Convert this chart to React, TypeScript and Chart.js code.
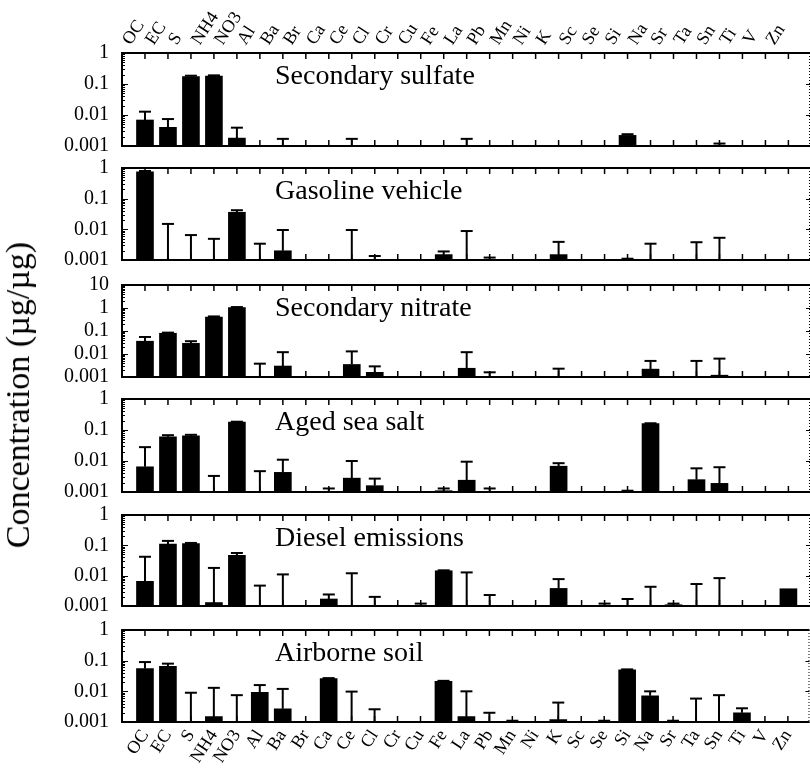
import React, { useEffect, useRef } from 'react';
import { Chart, registerables } from 'chart.js';

Chart.register(...registerables);

// ---------- data ----------
const categories = ['OC','EC','S','NH4','NO3','Al','Ba','Br','Ca','Ce','Cl','Cr','Cu','Fe','La','Pb','Mn','Ni','K','Sc','Se','Si','Na','Sr','Ta','Sn','Ti','V','Zn'];

const panelTitles = ['Secondary sulfate','Gasoline vehicle','Secondary nitrate','Aged sea salt','Diesel emissions','Airborne soil'];

const yTicksStd = [0.001, 0.01, 0.1, 1];
const yTicksNitrate = [0.001, 0.01, 0.1, 1, 10];

//                       OC      EC      S      NH4     NO3     Al      Ba      Br    Ca      Ce      Cl       Cr    Cu      Fe      La      Pb      Mn       Ni    K       Sc    Se       Si      Na     Sr       Ta      Sn       Ti      V     Zn
const sulfateValues   = [0.0069, 0.0040, 0.175, 0.18,   0.0018, null,   null,   null, null,   null,   null,    null, null,   null,   null,   null,   null,    null, null,   null, null,    0.0022, null,  null,    null,   null,    null,   null, null];
const sulfateErrors   = [0.0128, 0.0074, 0.185, 0.19,   0.0039, null,   0.0017, null, null,   0.0017, null,    null, null,   null,   0.0017, null,   null,    null, null,   null, null,    0.0024, null,  null,    null,   0.0012,  null,   null, null];

const gasolineValues  = [0.75,   null,   null,  null,   0.036,  null,   0.0020, null, null,   null,   null,    null, null,   0.0015, null,   null,   null,    null, 0.0015, null, null,    null,   null,  null,    null,   null,    null,   null, null];
const gasolineErrors  = [0.80,   0.015,  0.0065,0.0049, 0.042,  0.0034, 0.0095, null, null,   0.0095, 0.00135, null, null,   0.0019, 0.0088, 0.0012, null,    null, 0.0039, null, null,    0.0011, 0.0034,null,    0.0038, 0.0053,  null,   null, null];

const nitrateValues   = [0.036,  0.080,  0.029, 0.40,   1.05,   null,   0.0030, null, null,   0.0035, 0.0016,  null, null,   null,   0.0024, null,   null,    null, null,   null, null,    null,   0.0022,null,    null,   0.0012,  null,   null, null];
const nitrateErrors   = [0.055,  0.085,  0.036, 0.43,   1.10,   0.0038, 0.012,  null, null,   0.013,  0.0029,  null, null,   null,   0.012,  0.0016, null,    null, 0.0023, null, null,    null,   0.0050,null,    0.0050, 0.0063,  null,   null, null];

const seaSaltValues   = [0.0065, 0.060,  0.065, null,   0.18,   null,   0.0043, null, null,   0.0028, 0.0016,  null, null,   0.0011, 0.0024, null,   null,    null, 0.0068, null, null,    null,   0.16,  null,    0.0025, 0.0019,  null,   null, null];
const seaSaltErrors   = [0.028,  0.068,  0.070, 0.0033, 0.185,  0.0047, 0.011,  null, 0.0013, 0.010,  0.0027,  null, null,   0.0013, 0.0095, 0.0013, null,    null, 0.0085, null, null,    0.0011, 0.165, null,    0.0058, 0.0063,  null,   null, null];

const dieselValues    = [0.0065, 0.11,   0.115, 0.0013, 0.047,  null,   null,   null, 0.0017, null,   null,    null, null,   0.0145, null,   null,   null,    null, 0.0038, null, null,    null,   null,  0.0011,  null,   null,    null,   null, 0.0037];
const dieselErrors    = [0.042,  0.14,   0.12,  0.018,  0.056,  0.0047, 0.011,  null, 0.0024, 0.012,  0.0020,  null, 0.0012, 0.015,  0.0128, 0.0023, null,    null, 0.0077, null, 0.0012,  0.0017, 0.0043,0.0012,  0.0053, 0.0083,  null,   null, null];

const soilValues      = [0.055,  0.065,  null,  0.0015, null,   0.0092, 0.0027, null, 0.026,  null,   null,    null, null,   0.021,  0.0015, null,   0.00105, null, 0.0012, null, 0.00105, 0.050,  0.0072,0.00105, null,   0.00105, 0.0020, null, null];
const soilErrors      = [0.090,  0.080,  0.009, 0.013,  0.0075, 0.016,  0.012,  null, 0.027,  0.0098, 0.0026,  null, null,   0.022,  0.010,  0.0020, 0.0011,  null, 0.0043, null, 0.0011,  0.052,  0.010, 0.0011,  0.0058, 0.0075,  0.0028, null, null];

const panelValues = [sulfateValues, gasolineValues, nitrateValues, seaSaltValues, dieselValues, soilValues];
const panelErrors = [sulfateErrors, gasolineErrors, nitrateErrors, seaSaltErrors, dieselErrors, soilErrors];
const panelYMax = [1, 1, 10, 1, 1, 1];
const panelYTicks = [yTicksStd, yTicksStd, yTicksNitrate, yTicksStd, yTicksStd, yTicksStd];

// ---------- layout ----------
const PAGE_W = 810;
const PAGE_H = 771;
const PLOT_LEFT = 122;
const PANEL_TOPS = [53, 168, 285, 399, 515, 630];
const PANEL_BOTTOMS = [146, 260, 377, 492, 606, 722];
const FONT = '"Liberation Serif", "Times New Roman", serif';

type PanelProps = { idx: number };

function Panel({ idx }: PanelProps) {
  const ref = useRef<HTMLCanvasElement | null>(null);
  useEffect(() => {
    if (!ref.current) return;
    const first = idx === 0;
    const last = idx === 5;
    const top = PANEL_TOPS[idx];
    const bottom = PANEL_BOTTOMS[idx];
    const values = panelValues[idx];
    const errors = panelErrors[idx];
    const yMax = panelYMax[idx];
    const yTicks = panelYTicks[idx];
    const title = panelTitles[idx];

    const line = (ctx: CanvasRenderingContext2D, x1: number, y1: number, x2: number, y2: number) => {
      ctx.beginPath();
      ctx.moveTo(x1, y1);
      ctx.lineTo(x2, y2);
      ctx.stroke();
    };

    const framePlugin = {
      id: 'frame',
      afterDatasetsDraw(chart: any) {
        const { ctx, chartArea, scales } = chart;
        const xs = scales.x, ys = scales.y;
        ctx.save();
        ctx.strokeStyle = '#000';
        ctx.lineWidth = 2;
        errors.forEach((e, i) => {
          if (e == null) return;
          const px = xs.getPixelForValue(i);
          const v = values[i];
          const yb = v != null ? ys.getPixelForValue(v) : chartArea.bottom;
          const yt = ys.getPixelForValue(e);
          line(ctx, px, yb, px, yt);
          line(ctx, px - 6, yt, px + 6, yt);
        });
        ctx.restore();
      },
      afterDraw(chart: any) {
        const { ctx, chartArea, scales } = chart;
        const { left, right, top: t, bottom: b } = chartArea;
        const xs = scales.x, ys = scales.y;
        ctx.save();
        ctx.strokeStyle = '#000';
        ctx.lineWidth = 2;
        ctx.beginPath();
        ctx.moveTo(right, t);
        ctx.lineTo(left, t);
        ctx.lineTo(left, b);
        ctx.lineTo(right, b);
        ctx.stroke();
        // right dotted border
        ctx.lineWidth = 1;
        ctx.setLineDash([1, 2]);
        line(ctx, right - 0.5, t, right - 0.5, b);
        ctx.setLineDash([]);
        // x ticks (inward, top and bottom)
        ctx.lineWidth = 1.5;
        categories.forEach((_, i) => {
          const px = xs.getPixelForValue(i);
          line(ctx, px, t, px, t + 6);
          line(ctx, px, b, px, b - 6);
        });
        // y ticks (log, inward)
        ctx.lineWidth = 1;
        for (let d = 0.001; d < yMax * 0.999; d *= 10) {
          for (let m = 1; m <= 9; m++) {
            const v = d * m;
            const py = Math.round(ys.getPixelForValue(v)) + 0.5;
            const len = m === 1 ? 6 : 3;
            line(ctx, left, py, left + len, py);
            if (m === 1) line(ctx, right, py, right - 4, py);
          }
        }
        // title
        ctx.fillStyle = '#000';
        ctx.font = `28px ${FONT}`;
        ctx.textAlign = 'left';
        ctx.textBaseline = 'alphabetic';
        ctx.fillText(title, left + 153, t + 31);
        ctx.restore();
      },
    };

    const chart = new Chart(ref.current, {
      type: 'bar',
      data: {
        datasets: [
          {
            data: values.map((v, i) => ({ x: i, y: v })) as any,
            backgroundColor: '#000',
            borderWidth: 0,
            barThickness: 17,
          },
        ],
      },
      options: {
        animation: false,
        responsive: false,
        maintainAspectRatio: false,
        events: [],
        layout: {
          padding: {
            left: 0,
            right: 0,
            top: first ? 0 : top,
            bottom: last ? 0 : PAGE_H - bottom,
          },
        },
        plugins: {
          legend: { display: false },
          tooltip: { enabled: false },
          title: { display: false },
        },
        scales: {
          x: {
            type: 'linear',
            min: -1,
            max: 28.94,
            offset: false,
            position: first ? 'top' : 'bottom',
            display: first || last,
            grid: { display: false, drawTicks: false },
            border: { display: false },
            ticks: {
              autoSkip: false,
              minRotation: 57,
              maxRotation: 57,
              padding: 4,
              color: '#000',
              font: { family: FONT, size: 18 },
              callback: (v: any) => categories[Number(v)] ?? '',
            },
            afterBuildTicks: (s: any) => {
              s.ticks = categories.map((_, i) => ({ value: i }));
            },
            afterFit: (s: any) => {
              if (first) s.height = top;
              else if (last) s.height = PAGE_H - bottom;
              else s.height = 0;
            },
          } as any,
          y: {
            type: 'logarithmic',
            min: 0.001,
            max: yMax,
            grid: { display: false, drawTicks: false },
            border: { display: false },
            ticks: {
              autoSkip: false,
              padding: 13,
              color: '#000',
              font: { family: FONT, size: 20 },
              callback: (v: any) => String(Number(v)),
            },
            afterBuildTicks: (s: any) => {
              s.ticks = yTicks.map((v) => ({ value: v }));
            },
            afterFit: (s: any) => {
              s.width = PLOT_LEFT;
            },
          } as any,
        },
      },
      plugins: [framePlugin],
    });
    return () => chart.destroy();
  }, [idx]);

  return (
    <canvas
      ref={ref}
      width={PAGE_W}
      height={PAGE_H}
      style={{ position: 'absolute', left: 0, top: 0, width: PAGE_W, height: PAGE_H, pointerEvents: 'none' }}
    />
  );
}

export default function App() {
  return (
    <div
      style={{
        position: 'fixed',
        left: 0,
        top: 0,
        width: PAGE_W,
        height: PAGE_H,
        background: '#fff',
        overflow: 'hidden',
      }}
    >
      {panelTitles.map((_, i) => (
        <Panel key={i} idx={i} />
      ))}
      <div
        style={{
          position: 'absolute',
          left: 18,
          top: 395,
          transform: 'translate(-50%, -50%) rotate(-90deg)',
          whiteSpace: 'nowrap',
          fontFamily: FONT,
          fontSize: 34,
          color: '#000',
        }}
      >
        Concentration (µg/µg)
      </div>
    </div>
  );
}
